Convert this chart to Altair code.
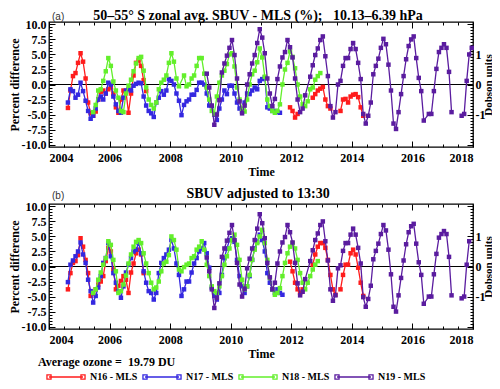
import altair as alt
import pandas as pd

# ---------------- data ----------------
NAMES = ["N16 - MLS", "N17 - MLS", "N18 - MLS", "N19 - MLS"]
COLORS = ["#ff1c1c", "#3428e0", "#63ef2b", "#5a1c9f"]
AVG_OZONE_DU = 19.79
TITLE_A = "50\u201355\u00b0 S zonal avg. SBUV - MLS (%);\u00a0\u00a0\u00a010.13\u20136.39 hPa"
TITLE_B = "SBUV adjusted to 13:30"
YEAR_LABELS = [2004, 2006, 2008, 2010, 2012, 2014, 2016, 2018]
PCT_LABELS = [-10, -7.5, -5, -2.5, 0, 2.5, 5, 7.5, 10]
DU_LABELS = [-1, 0, 1]

# monthly values (percent), each segment: start (year, month) + values; None = missing month
A_N16_1_START = (2004, 8)
A_N16_1 = [-3.9, -1.0, 1.4, 1.9, 3.6, 5.2, 3.8, 1.0, -3.0, -4.8, -5.2, -4.5, -2.5, -1.2, -1.0, -1.5,
           -0.8, -0.5, -1.5, -3.8, -4.7, -2.5, -1.0, -1.2, -4.7, -1.5, 1.5, 3.6, 4.0, 3.1, 0.7, -1.1]
A_N16_2_START = (2011, 12)
A_N16_2 = [-3.8, -4.4, -5.5, -4.9]
A_N16_3_START = (2012, 9)
A_N16_3 = [-2.2, -1.6, -1.0, -0.7, -0.4, -2.5, -3.6, -4.0]
A_N16_4_START = (2013, 8)
A_N16_4 = [-4.4, -2.5, -2.4, -3.0, -2.0, -1.7, -1.6, -2.1, -3.8, -5.2]

A_N17_START = (2004, 8)
A_N17 = [-3.0, -0.8, -1.1, -2.2, -1.7,
         0.3, -1.1, -2.7, -4.4, -5.7, -5.2, -4.0, -2.5, -2.0, -2.5, -1.5, 0.3,
         0.0, -2.0, -3.3, -4.4, -4.7, -2.2, -1.0, -0.8, -1.0, -0.2, 0.1, 0.3,
         0.2, -2.0, -3.5, -4.4, -4.8, -5.4, -3.0, -2.2, -1.1, -1.7, -1.0, 0.9,
         0.6, 0.0, -1.5, -2.7, -5.1, -3.4, -2.8, -2.5, -1.7, -1.7, -0.9, 0.3,
         0.3, 0.0, -1.5, -3.5, -3.6, -5.0, -5.9, -4.0, -2.5, -1.0, -1.6, -0.2,
         -0.2, -1.5, -3.0, -4.0, -4.5, -3.0, -1.5, -1.6, -1.0, -0.5, -0.8, 0.6,
         0.9, 1.2, -3.8, -4.0, -4.4, -4.4, -4.6, -4.7]

A_N18_START = (2005, 6)
A_N18 = [-4.6, -3.4, -1.0, -0.8, 0.6, 2.2, 4.4,
         3.1, 0.5, -1.0, -2.2, -4.4, -4.6, -1.5, -0.2, 0.8, 2.2, 3.5, 4.4,
         4.6, 2.3, -0.5, -2.5, -3.4, -4.0, -3.0, -0.8, 0.3, 0.8, 1.5, 3.6,
         5.2, 3.8, 1.0, -0.3, None, 1.5, -0.3, 0.0, 1.0, 1.5, 3.1, 4.4,
         4.4, 1.8, -0.5, -2.5, -4.4, -4.9, -2.0, 0.3, 1.5, 2.3, 3.4, 5.0,
         5.2, 3.0, -0.5, -2.5, -4.1, -4.5, -2.5, 0.0, 1.7, 2.3, 3.7, 6.0,
         4.5, 1.3, -2.5, -3.6, -4.4, -4.7, -4.4, -3.3, 0.0, 2.5, 3.6, 5.5,
         4.6, 2.7, 0.0, -2.0, -3.3, -3.6, -2.8, -0.8, -0.5, 0.8, 1.4, 1.9]

A_N19_1_START = (2009, 3)
A_N19_1 = [1.8, -0.5, -3.5, -6.7, -5.0, -2.6, 2.0, 3.5, 4.8, 6.1,
           7.4, 4.9, 1.0, -2.8, -4.8, -3.5, 0.0, 1.7, 3.5, 4.9, 6.9, 9.2,
           7.8, 5.2, 1.0, -1.5, -3.6, -2.4, 0.9, 3.0, 4.5, 5.4, 7.4, 6.2,
           4.5, 1.0, -2.5, -4.6, -4.0, -1.8, None, 1.3, 3.2, 4.9, 6.0, 7.4,
           8.0, 4.7, 1.4, -3.6, -5.5, -4.6, 0.0, 0.6, 3.1, 4.4, 4.4, 5.9,
           6.9, 5.9, 3.6, 0.9, -4.9, -6.5, -5.2, -3.0, 1.7, 3.1, 4.3, 6.1,
           7.6, 6.7, 3.3, -1.0, -6.5, -7.4, -4.6, -1.6, 1.4, 4.2, 6.4, 7.5,
           8.0, 4.4, 1.1, -1.1, -6.0, None, -4.9, -4.9, -1.1, 2.6, 5.4, 6.1,
           6.7, 6.1, 2.1, -4.6]
A_N19_2_START = (2017, 8)
A_N19_2 = [-5.2, -4.9, 0.6, 5.0, 6.1]

B_N16_1_START = (2004, 8)
B_N16_1 = [-3.8, -1.1, 0.6, 0.9, 1.9, 4.7, 3.3, 1.1, -1.1, -4.9, -4.5, -3.8, -3.0, -2.5, -1.6, 0.9,
           3.1, 2.5, -0.5, -3.8, -3.2, -2.4, -1.6, -2.2, -4.4, -1.0, 0.5, 2.2, 2.8, 2.0, -1.1]
B_N16_2_START = (2011, 12)
B_N16_2 = [0.8, -0.8, -2.7, -3.8, -4.4, -3.8]
B_N16_3_START = (2012, 9)
B_N16_3 = [0.3, 2.0, 3.3, 3.9, 3.9, 3.1, 1.1, -1.4, -3.8, -4.7]
B_N16_4_START = (2013, 8)
B_N16_4 = [-3.8, -1.4, 0.3, 0.3, 2.2, 2.8, 2.0, -0.2, -2.7, -4.9]

B_N17_START = (2004, 8)
B_N17 = [-2.6, 0.3, 1.0, 1.7, 2.5,
         4.0, 2.0, 0.6, -2.2, -4.1, -6.0, -4.9, -3.5, -1.6, 0.6, 1.4, 3.9,
         1.7, -1.1, -2.7, -4.1, -5.2, -3.3, -1.0, 0.3, 1.4, 2.5, 2.8, 3.9,
         2.2, -0.8, -2.7, -4.1, -4.4, -5.5, -4.4, -1.1, 0.6, 1.4, 2.0, 2.8,
         4.4, 3.0, 0.5, -1.4, -4.9, -3.8, -2.5, -2.5, -1.0, 0.5, 1.4, 2.5,
         3.0, 3.9, 2.2, -0.2, -3.5, -4.9, -5.5, -4.4, -1.4, 1.4, 3.0, 4.4,
         4.7, 4.1, 1.1, -1.6, -3.3, -4.4, -3.3, -1.6, 1.1, 3.0, 4.1, 5.3,
         4.4, 2.5, -1.1, -2.7, -3.8, -4.4, -3.8, -4.4, -4.7]

B_N18_START = (2005, 6)
B_N18 = [-4.4, -3.8, -2.2, -1.0, 0.3, 1.4, 4.2,
         3.6, 1.1, -0.8, -4.4, -4.1, -3.0, -1.5, 0.5, 2.0, 3.3, 4.1, 4.4,
         3.9, 2.2, 0.5, -1.1, -2.7, -3.8, -3.5, -2.5, -0.8, 0.5, 0.8, 1.9,
         5.0, 4.4, 2.8, -0.5, -0.8, -0.1, 0.3, 0.5, 1.4, 1.7, 2.8, 3.3,
         4.2, 2.8, 0.3, -1.6, -3.3, -4.1, -4.4, -3.3, -1.6, 0.3, 1.7, 3.0,
         4.4, 5.3, 3.6, 1.1, -2.2, -3.8, -3.3, -1.4, 1.1, 2.8, 3.9, 5.0,
         6.1, 3.9, 1.1, -1.9, -3.8, -4.7, -4.4, -3.6, -1.6, 0.6, 2.2, 3.3,
         3.9, 3.0, 1.1, -1.1, -2.7, -3.8, -2.7, -1.6, -0.5, 0.3, 0.9]

B_N19_1_START = (2009, 3)
B_N19_1 = [1.5, -0.8, -3.8, -6.9, -5.2, -2.8, 1.6, 3.0, 4.3, 5.6,
           6.9, 4.4, 0.6, -3.0, -5.0, -3.7, -0.3, 1.3, 3.0, 4.4, 6.3, 8.7,
           7.2, 4.7, 0.6, -1.8, -3.8, -2.7, 0.5, 2.5, 4.0, 4.9, 6.9, 5.7,
           4.0, 0.6, -2.8, -4.8, -4.2, -2.1, None, 0.9, 2.7, 4.4, 5.5, 6.9,
           7.5, 4.2, 1.0, -3.8, -5.7, -4.8, -0.3, 0.2, 2.6, 3.9, 3.9, 5.3,
           6.3, 5.3, 3.1, 0.5, -5.1, -6.7, -5.4, -3.2, 1.2, 2.6, 3.8, 5.4,
           6.9, 6.0, 2.8, -1.3, -6.7, -7.5, -4.8, -1.9, 1.0, 3.7, 5.7, 6.7,
           7.1, 3.8, 0.7, -1.4, -6.2, None, -5.0, -5.0, -1.3, 2.1, 4.8, 5.4,
           5.9, 5.4, 1.6, -4.8]
B_N19_2_START = (2017, 8)
B_N19_2 = [-5.3, -5.0, 0.3, 4.2]

PANEL_A = [("N16 - MLS", A_N16_1_START, A_N16_1), ("N16 - MLS", A_N16_2_START, A_N16_2),
           ("N16 - MLS", A_N16_3_START, A_N16_3), ("N16 - MLS", A_N16_4_START, A_N16_4),
           ("N17 - MLS", A_N17_START, A_N17), ("N18 - MLS", A_N18_START, A_N18),
           ("N19 - MLS", A_N19_1_START, A_N19_1), ("N19 - MLS", A_N19_2_START, A_N19_2)]
PANEL_B = [("N16 - MLS", B_N16_1_START, B_N16_1), ("N16 - MLS", B_N16_2_START, B_N16_2),
           ("N16 - MLS", B_N16_3_START, B_N16_3), ("N16 - MLS", B_N16_4_START, B_N16_4),
           ("N17 - MLS", B_N17_START, B_N17), ("N18 - MLS", B_N18_START, B_N18),
           ("N19 - MLS", B_N19_1_START, B_N19_1), ("N19 - MLS", B_N19_2_START, B_N19_2)]


def build(segments):
    rows = []
    for k, (name, (y0, m0), vals) in enumerate(segments):
        for i, v in enumerate(vals):
            if v is None:
                continue
            m = m0 - 1 + i
            rows.append({"t": y0 + m // 12 + (m % 12 + 0.5) / 12.0, "v": v,
                         "series": name, "seg": f"s{k}"})
    return pd.DataFrame(rows)


# ---------------- layout ----------------
W, H = 424, 125
SPACING = 57
XDOM = [2004, 2018]
YDOM = [-10.4, 10.4]
DUDOM = [YDOM[0] * AVG_OZONE_DU / 100, YDOM[1] * AVG_OZONE_DU / 100]
SERIF = "Liberation Serif"

X_MINOR = [2004 + 0.5 * i for i in range(29)]
P_MINOR = [-10 + 0.5 * i for i in range(41)]
D_MINOR = [round(-2.0 + 0.1 * i, 1) for i in range(41)]

COND_X = {"condition": {"test": "datum.value % 2 === 0", "value": 6}, "value": 3}
COND_P = {"condition": {"test": "datum.value % 2.5 === 0", "value": 6}, "value": 3}
COND_D = {"condition": {"test": "abs(datum.value - round(datum.value)) < 0.001", "value": 6}, "value": 3}


def sc(dom):
    return alt.Scale(domain=dom, nice=False, zero=False)


def tick_axis(orient, offset, values, cond):
    return alt.Axis(orient=orient, offset=offset, values=values, labels=False, domain=False,
                    grid=False, title=None, tickSize=cond, tickColor="black", tickWidth=1)


def panel(segments, title, tag, title_y, tag_y, extra=None):
    df = build(segments)
    one = pd.DataFrame({"t": [2010.0], "v": [0.0], "du": [0.0]})
    layers = []

    x_main = alt.Axis(orient="bottom", values=YEAR_LABELS, format="d", ticks=False, tickSize=0,
                      domain=False, grid=False, labelFont=SERIF, labelFontWeight="bold",
                      labelFontSize=12, labelPadding=5, labelColor="black",
                      title="Time", titleFont=SERIF, titleFontWeight="bold", titleFontSize=12,
                      titleX=W / 2, titleY=24, titleBaseline="middle", titleColor="black")
    y_main = alt.Axis(orient="left", values=PCT_LABELS, ticks=False, tickSize=0, domain=False,
                      grid=False, labelFont=SERIF, labelFontWeight="bold", labelFontSize=12,
                      labelPadding=3, labelColor="black",
                      labelExpr="(datum.value < 0 ? '-' : '') + format(abs(datum.value), '.1f')",
                      title="Percent difference", titleFont=SERIF, titleFontWeight="bold",
                      titleFontSize=12, titleAngle=270, titleX=-35, titleY=H / 2,
                      titleAlign="center", titleBaseline="middle", titleColor="black")

    # zero line
    layers.append(alt.Chart(one).mark_rule(color="black", strokeWidth=1).encode(
        y=alt.Y("v:Q", scale=sc(YDOM), axis=None)))

    first = True
    for name, color in zip(NAMES, COLORS):
        sub = df[df["series"] == name]
        layers.append(alt.Chart(sub).mark_line(color=color, strokeWidth=1.3).encode(
            x=alt.X("t:Q", scale=sc(XDOM), axis=x_main if first else None),
            y=alt.Y("v:Q", scale=sc(YDOM), axis=y_main if first else None),
            detail="seg:N"))
        layers.append(alt.Chart(sub).mark_square(color=color, size=20, opacity=1).encode(
            x=alt.X("t:Q", scale=sc(XDOM), axis=None),
            y=alt.Y("v:Q", scale=sc(YDOM), axis=None)))
        first = False

    # inward ticks: bottom + left
    layers.append(alt.Chart(one).mark_point(opacity=0).encode(
        x=alt.X("t:Q", scale=sc(XDOM), axis=tick_axis("top", -H, X_MINOR, COND_X)),
        y=alt.Y("v:Q", scale=sc(YDOM), axis=tick_axis("right", -W, P_MINOR, COND_P))))
    # inward ticks: top + right (Dobson scale)
    layers.append(alt.Chart(one).mark_point(opacity=0).encode(
        x=alt.X("t:Q", scale=sc(XDOM), axis=tick_axis("bottom", -H, X_MINOR, COND_X)),
        y=alt.Y("du:Q", scale=sc(DUDOM), axis=tick_axis("left", -W, D_MINOR, COND_D))))
    # Dobson units labels
    layers.append(alt.Chart(one).mark_point(opacity=0).encode(
        y=alt.Y("du:Q", scale=sc(DUDOM), axis=alt.Axis(
            orient="right", values=DU_LABELS, ticks=False, tickSize=0, domain=False, grid=False,
            labelFont=SERIF, labelFontWeight="bold", labelFontSize=12, labelPadding=2,
            labelColor="black",
            labelExpr="(datum.value < 0 ? '-' : '') + format(abs(datum.value), 'd')",
            title="Dobson units", titleFont=SERIF, titleFontWeight="bold", titleFontSize=11,
            titleAngle=270, titleX=15, titleY=H / 2, titleAlign="center",
            titleBaseline="middle", titleColor="black"))))

    layers.append(alt.Chart(pd.DataFrame({"s": [title]})).mark_text(
        font=SERIF, fontSize=14, fontWeight="bold", align="center", baseline="middle",
        color="black").encode(text="s:N", x=alt.value(209), y=alt.value(title_y)))
    layers.append(alt.Chart(pd.DataFrame({"s": [tag]})).mark_text(
        font="Liberation Sans", fontSize=10, align="left", baseline="middle",
        color="#333333").encode(text="s:N", x=alt.value(3), y=alt.value(tag_y)))
    if extra:
        layers.extend(extra)

    return alt.layer(*layers).resolve_scale(x="independent", y="independent").resolve_axis(
        x="independent", y="independent").properties(width=W, height=H)


LEG_PATH = ("M-1,0L1,0M-1.12,-0.12L-0.88,-0.12L-0.88,0.12L-1.12,0.12Z"
            "M0.88,-0.12L1.12,-0.12L1.12,0.12L0.88,0.12Z")

avg_text = alt.Chart(pd.DataFrame({"s": [f"Average ozone = \u00a0{AVG_OZONE_DU:.2f} DU"]})).mark_text(
    font=SERIF, fontSize=12, fontWeight="bold", align="left", baseline="middle",
    color="black").encode(text="s:N", x=alt.value(-11), y=alt.value(158))

legend_layer = alt.Chart(pd.DataFrame({"series": NAMES})).mark_point(
    opacity=0, filled=False, shape=LEG_PATH).encode(
    color=alt.Color("series:N", scale=alt.Scale(domain=NAMES, range=COLORS),
                    legend=alt.Legend(orient="none", legendX=-1, legendY=155,
                                      direction="horizontal", columns=4, title=None,
                                      symbolType=LEG_PATH, symbolSize=1156,
                                      symbolStrokeWidth=1.3, symbolOpacity=1,
                                      labelFont=SERIF, labelFontSize=10,
                                      labelFontWeight="bold", labelColor="black",
                                      labelOffset=6, columnPadding=2, padding=0)))

pa = panel(PANEL_A, TITLE_A, "(a)", -6, -5)
pb = panel(PANEL_B, TITLE_B, "(b)", -10, -8, extra=[avg_text, legend_layer])

# Vega-Lite gives the vconcat a top-level width (the panels' width) but no height,
# so the bottom padding carries the whole vertical extent.
TOTAL_W, TOTAL_H = 484, 373
PAD_L, PAD_T = 41, 14
chart = alt.vconcat(pa, pb, spacing=SPACING, bounds="flush").resolve_scale(
    color="independent").properties(
    autosize=alt.AutoSizeParams(type="none"),
    padding={"left": PAD_L, "top": PAD_T, "right": TOTAL_W - PAD_L - W,
             "bottom": TOTAL_H - PAD_T},
    background="white").configure_view(stroke="black", strokeWidth=1.3)

chart.save("out.html", embed_options={"renderer": "svg", "actions": False})
